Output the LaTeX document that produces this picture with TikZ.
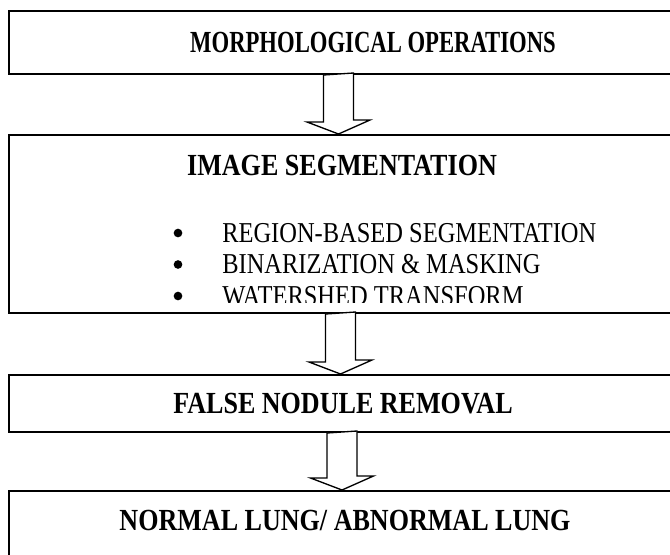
\documentclass[tikz,border=0pt]{standalone}
\usepackage{fontspec}
\setmainfont{Liberation Serif}[FakeStretch=0.85]
\usepackage{graphicx}
\usepackage{tikz}
\usetikzlibrary{fit,positioning}

\begin{document}
\begin{tikzpicture}[
    x=0.75pt, y=-0.75pt,
    stagebox/.style={
      draw=black,
      line width=1.5pt,
      fill=white,
      inner sep=0pt
    },
    stagetitle/.style={
      font=\bfseries\fontsize{23}{27}\selectfont,
      inner sep=0pt,
      anchor=base
    },
    itemtext/.style={
      font=\fontsize{21.6}{26}\selectfont,
      inner sep=0pt,
      anchor=base west
    },
    itembullet/.style={
      circle,
      fill=black,
      inner sep=0pt,
      minimum size=6.5pt
    },
    blockarrow/.style={draw=black, line width=1pt, fill=white, line join=miter}
  ]
    \useasboundingbox (0,0) rectangle (670,554);
    \clip (0,0) rectangle (670,554);

    % stages
    \node[stagebox, fit={(8.7,11) (720,74)}] (morph) {};
    \node[stagebox, fit={(8.7,135) (720,313)}] (seg) {};
    \node[stagebox, fit={(8.7,375) (720,432)}] (nodule) {};
    \node[stagebox, fit={(8.7,491) (720,560)}] (result) {};

    \node[stagetitle] (morphtext) at (373,52)
      {\scalebox{0.87}[1]{MORPHOLOGICAL OPERATIONS}};
    \node[stagetitle] (segtext) at (342,175) {IMAGE SEGMENTATION};
    \node[stagetitle] (noduletext) at (343,413.5) {FALSE NODULE REMOVAL};
    \node[stagetitle] (resulttext) at (345,530) {NORMAL LUNG/ ABNORMAL LUNG};

    % segmentation steps (last one cut by the box)
    \begin{scope}
      \clip (0,0) rectangle (670,302);
      \node[itembullet] (dot1) at (178,233) {};
      \node[itemtext] (region) at (222,242) {REGION-BASED SEGMENTATION};
      \node[itembullet] (dot2) at (178,264.5) {};
      \node[itemtext] (binar) at (222,273.5) {BINARIZATION \& MASKING};
      \node[itembullet] (dot3) at (178,296) {};
      \node[itemtext] (water) at (222,305) {WATERSHED TRANSFORM};
    \end{scope}

    % arrows
    \coordinate (ax1) at (338.5,0);
    \coordinate (ax2) at (340.5,0);
    \coordinate (ax3) at (342,0);

    \draw[blockarrow] (morph.south -| ax1) ++(-15,0) -- ++(0,47) -- ++(-16.5,0)
      -- (seg.north -| ax1) -- ++(31.5,-14) -- ++(-16.5,0) -- ++(0,-47) -- cycle;
    \draw[blockarrow] (seg.south -| ax2) ++(-15,0) -- ++(0,48) -- ++(-16.5,0)
      -- (nodule.north -| ax2) -- ++(31.5,-14) -- ++(-16.5,0) -- ++(0,-48) -- cycle;
    \draw[blockarrow] (nodule.south -| ax3) ++(-15,0) -- ++(0,45) -- ++(-16.5,0)
      -- (result.north -| ax3) -- ++(31.5,-14) -- ++(-16.5,0) -- ++(0,-45) -- cycle;
  \end{tikzpicture}
\end{document}
